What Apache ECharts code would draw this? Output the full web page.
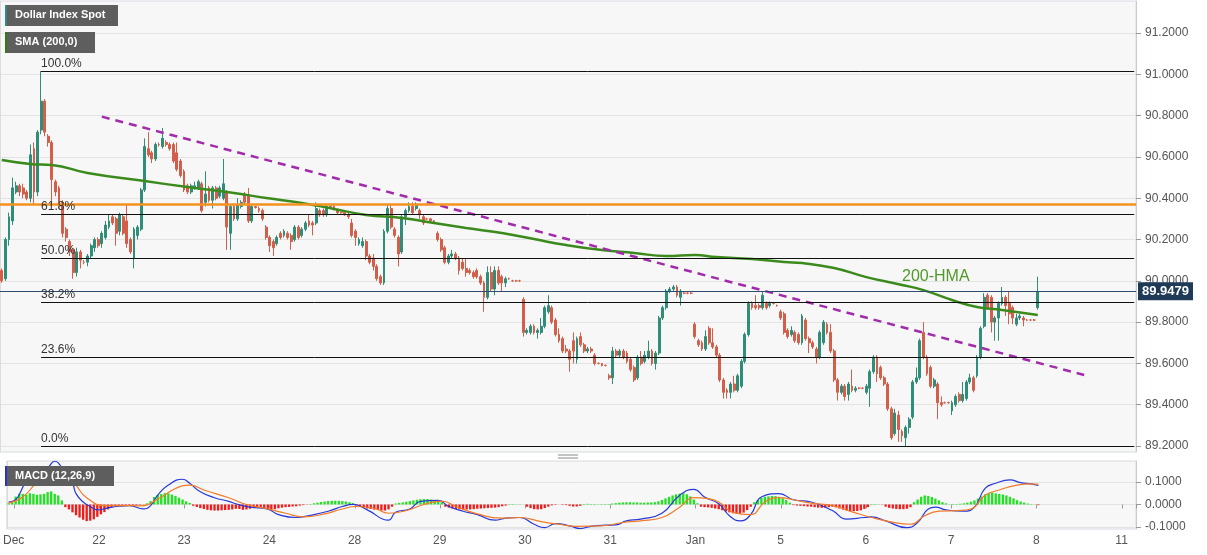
<!DOCTYPE html>
<html>
<head>
<meta charset="utf-8">
<title>Dollar Index Spot</title>
<script src="https://cdn.jsdelivr.net/npm/echarts@6/dist/echarts.min.js"></script>
<style>
  html, body { margin: 0; padding: 0; background: #fff; }
  #chart { width: 1207px; height: 555px; }
</style>
</head>
<body>
<div id="chart"></div>
<script>
// hourly candles, [open, close, low, high]
const dec21 = [
  [90.05, 90.00, 89.99, 90.06], [90.01, 90.20, 90.00, 90.21],
  [90.20, 90.31, 90.17, 90.33], [90.29, 90.45, 90.27, 90.50], [90.43, 90.46, 90.42, 90.48], [90.46, 90.43, 90.41, 90.47],
  [90.45, 90.42, 90.40, 90.47], [90.43, 90.40, 90.39, 90.44], [90.40, 90.61, 90.38, 90.66], [90.64, 90.43, 90.37, 90.67],
  [90.43, 90.72, 90.41, 90.73], [90.73, 90.87, 90.71, 91.016], [90.87, 90.72, 90.70, 90.88], [90.70, 90.67, 90.65, 90.71],
  [90.67, 90.49, 90.37, 90.68], [90.48, 90.43, 90.41, 90.49], [90.45, 90.38, 90.35, 90.46], [90.38, 90.23, 90.21, 90.39],
  [90.25, 90.21, 90.19, 90.26], [90.19, 90.14, 90.12, 90.20], [90.15, 90.04, 90.01, 90.16], [90.04, 90.14, 90.02, 90.16],
  [90.14, 90.10, 90.06, 90.15], [90.09, 90.09, 90.08, 90.10], [90.09, 90.12, 90.07, 90.13], [90.12, 90.17, 90.11, 90.18]
];
const dec22 = [
  [90.16, 90.20, 90.14, 90.21], [90.20, 90.17, 90.16, 90.21], [90.18, 90.23, 90.16, 90.24], [90.21, 90.27, 90.20, 90.29],
  [90.26, 90.29, 90.25, 90.32], [90.31, 90.28, 90.27, 90.32], [90.30, 90.23, 90.17, 90.31], [90.24, 90.32, 90.22, 90.33],
  [90.31, 90.23, 90.22, 90.32], [90.29, 90.18, 90.16, 90.37], [90.20, 90.14, 90.13, 90.21], [90.11, 90.25, 90.06, 90.26],
  [90.22, 90.26, 90.20, 90.27], [90.25, 90.44, 90.24, 90.45], [90.44, 90.65, 90.43, 90.69], [90.64, 90.61, 90.60, 90.72],
  [90.62, 90.59, 90.57, 90.63], [90.59, 90.66, 90.58, 90.67], [90.66, 90.66, 90.65, 90.67], [90.65, 90.69, 90.64, 90.74],
  [90.67, 90.66, 90.65, 90.68], [90.66, 90.64, 90.63, 90.67], [90.66, 90.58, 90.57, 90.67], [90.62, 90.54, 90.53, 90.67]
];
const dec23 = [
  [90.58, 90.51, 90.50, 90.59], [90.53, 90.44, 90.43, 90.54], [90.46, 90.43, 90.42, 90.47], [90.43, 90.46, 90.42, 90.47],
  [90.45, 90.46, 90.44, 90.48], [90.45, 90.48, 90.44, 90.49], [90.47, 90.34, 90.33, 90.48], [90.38, 90.42, 90.36, 90.53],
  [90.45, 90.39, 90.38, 90.46], [90.39, 90.45, 90.35, 90.46], [90.45, 90.40, 90.39, 90.46], [90.41, 90.45, 90.40, 90.46],
  [90.40, 90.47, 90.39, 90.59], [90.43, 90.26, 90.15, 90.44], [90.23, 90.36, 90.15, 90.37], [90.36, 90.30, 90.29, 90.37],
  [90.30, 90.37, 90.29, 90.40], [90.36, 90.38, 90.35, 90.39], [90.42, 90.38, 90.37, 90.43], [90.41, 90.29, 90.28, 90.45],
  [90.29, 90.36, 90.28, 90.37], [90.36, 90.355, 90.35, 90.36], [90.35, 90.34, 90.33, 90.36], [90.34, 90.30, 90.29, 90.35]
];
const dec24 = [
  [90.26, 90.21, 90.20, 90.27], [90.21, 90.17, 90.14, 90.22], [90.19, 90.16, 90.12, 90.20], [90.18, 90.21, 90.17, 90.22],
  [90.23, 90.21, 90.20, 90.24], [90.22, 90.24, 90.21, 90.25], [90.23, 90.21, 90.20, 90.24], [90.22, 90.19, 90.15, 90.23],
  [90.20, 90.26, 90.19, 90.27], [90.26, 90.21, 90.20, 90.27], [90.22, 90.25, 90.21, 90.26], [90.25, 90.28, 90.24, 90.29],
  [90.29, 90.27, 90.26, 90.32], [90.28, 90.27, 90.22, 90.29], [90.28, 90.35, 90.27, 90.38], [90.34, 90.32, 90.31, 90.35],
  [90.34, 90.32, 90.31, 90.35], [90.32, 90.36, 90.31, 90.37], [90.36, 90.355, 90.35, 90.37], [90.36, 90.35, 90.34, 90.37],
  [90.34, 90.33, 90.32, 90.35], [90.33, 90.33, 90.325, 90.335], [90.33, 90.32, 90.315, 90.335], [90.32, 90.31, 90.30, 90.33]
];
const dec28 = [
  [90.28, 90.22, 90.21, 90.30], [90.24, 90.21, 90.17, 90.25], [90.18, 90.20, 90.17, 90.21], [90.17, 90.19, 90.16, 90.21],
  [90.19, 90.12, 90.10, 90.20], [90.12, 90.09, 90.08, 90.13], [90.11, 90.07, 90.05, 90.13], [90.07, 90.01, 90.00, 90.08],
  [90.02, 89.99, 89.98, 90.03], [89.99, 90.24, 89.98, 90.25], [90.24, 90.35, 90.23, 90.37], [90.35, 90.26, 90.25, 90.37],
  [90.25, 90.22, 90.21, 90.26], [90.21, 90.13, 90.07, 90.22], [90.14, 90.31, 90.13, 90.32], [90.31, 90.34, 90.27, 90.35],
  [90.34, 90.36, 90.33, 90.38], [90.36, 90.33, 90.32, 90.38], [90.35, 90.37, 90.34, 90.38], [90.34, 90.32, 90.30, 90.35],
  [90.31, 90.28, 90.27, 90.32], [90.30, 90.30, 90.295, 90.305], [90.30, 90.29, 90.285, 90.305], [90.29, 90.28, 90.275, 90.295]
];
const dec29 = [
  [90.23, 90.20, 90.19, 90.24], [90.20, 90.15, 90.14, 90.21], [90.16, 90.09, 90.08, 90.17], [90.09, 90.12, 90.08, 90.13],
  [90.12, 90.13, 90.11, 90.15], [90.13, 90.11, 90.10, 90.14], [90.11, 90.05, 90.03, 90.12], [90.09, 90.06, 90.05, 90.11],
  [90.06, 90.04, 90.02, 90.11], [90.05, 90.04, 90.03, 90.06], [90.04, 90.02, 90.01, 90.05], [90.05, 90.02, 90.01, 90.06],
  [90.02, 89.99, 89.98, 90.03], [89.99, 89.92, 89.85, 90.00], [89.92, 90.04, 89.91, 90.07], [90.04, 89.96, 89.95, 90.07],
  [89.96, 90.05, 89.93, 90.07], [90.05, 89.99, 89.98, 90.07], [90.02, 89.99, 89.95, 90.03], [89.99, 90.01, 89.97, 90.02],
  [90.01, 90.01, 90.005, 90.015], [90.00, 90.00, 89.995, 90.005], [90.00, 90.00, 89.995, 90.005], [90.00, 90.00, 89.995, 90.005]
];
const dec30 = [
  [89.91, 89.75, 89.73, 89.92], [89.75, 89.76, 89.74, 89.77], [89.75, 89.78, 89.74, 89.79], [89.78, 89.75, 89.74, 89.79],
  [89.75, 89.76, 89.72, 89.77], [89.75, 89.78, 89.74, 89.82], [89.78, 89.87, 89.77, 89.88], [89.85, 89.88, 89.84, 89.93],
  [89.87, 89.80, 89.79, 89.88], [89.81, 89.74, 89.73, 89.82], [89.74, 89.71, 89.70, 89.77], [89.72, 89.66, 89.65, 89.73],
  [89.67, 89.66, 89.65, 89.69], [89.66, 89.62, 89.56, 89.67], [89.71, 89.66, 89.60, 89.75], [89.62, 89.72, 89.60, 89.73],
  [89.73, 89.69, 89.68, 89.75], [89.69, 89.66, 89.65, 89.70], [89.66, 89.67, 89.65, 89.68], [89.67, 89.66, 89.65, 89.68],
  [89.64, 89.60, 89.59, 89.65], [89.60, 89.60, 89.595, 89.605], [89.60, 89.59, 89.585, 89.60], [89.59, 89.59, 89.585, 89.595]
];
const dec31 = [
  [89.54, 89.53, 89.52, 89.55], [89.53, 89.66, 89.50, 89.68], [89.66, 89.64, 89.63, 89.67], [89.64, 89.66, 89.63, 89.67],
  [89.66, 89.63, 89.62, 89.67], [89.65, 89.61, 89.60, 89.66], [89.62, 89.57, 89.56, 89.63], [89.58, 89.52, 89.51, 89.59],
  [89.53, 89.63, 89.52, 89.64], [89.63, 89.60, 89.59, 89.66], [89.61, 89.64, 89.60, 89.66], [89.63, 89.66, 89.62, 89.71],
  [89.66, 89.60, 89.59, 89.67], [89.60, 89.65, 89.57, 89.66], [89.65, 89.82, 89.64, 89.83], [89.82, 89.87, 89.81, 89.88],
  [89.87, 89.95, 89.86, 89.96], [89.95, 89.96, 89.94, 89.97], [89.96, 89.97, 89.95, 89.98], [89.97, 89.93, 89.92, 89.98],
  [89.92, 89.95, 89.88, 89.96], [89.94, 89.94, 89.935, 89.945], [89.94, 89.94, 89.935, 89.945], [89.94, 89.94, 89.935, 89.945]
];
const jan4 = [
  [89.79, 89.73, 89.72, 89.80], [89.71, 89.69, 89.68, 89.72], [89.70, 89.67, 89.66, 89.71], [89.67, 89.73, 89.66, 89.76],
  [89.77, 89.70, 89.69, 89.78], [89.70, 89.68, 89.67, 89.77], [89.68, 89.64, 89.63, 89.69], [89.64, 89.52, 89.51, 89.65],
  [89.52, 89.46, 89.43, 89.53], [89.47, 89.46, 89.43, 89.48], [89.46, 89.50, 89.43, 89.51], [89.50, 89.47, 89.46, 89.54],
  [89.47, 89.54, 89.46, 89.55], [89.49, 89.61, 89.48, 89.62], [89.61, 89.74, 89.60, 89.75], [89.74, 89.89, 89.73, 89.90],
  [89.89, 89.87, 89.86, 89.90], [89.88, 89.87, 89.86, 89.93], [89.88, 89.87, 89.86, 89.89], [89.87, 89.93, 89.86, 89.95],
  [89.89, 89.87, 89.86, 89.90], [89.88, 89.89, 89.87, 89.90], [89.89, 89.89, 89.885, 89.895], [89.88, 89.88, 89.875, 89.885]
];
const jan5 = [
  [89.85, 89.82, 89.81, 89.86], [89.84, 89.75, 89.74, 89.85], [89.76, 89.73, 89.72, 89.77], [89.74, 89.76, 89.73, 89.78],
  [89.75, 89.71, 89.70, 89.76], [89.74, 89.70, 89.69, 89.75], [89.70, 89.83, 89.69, 89.84], [89.81, 89.72, 89.71, 89.82],
  [89.72, 89.70, 89.65, 89.73], [89.70, 89.68, 89.67, 89.71], [89.67, 89.63, 89.60, 89.68], [89.63, 89.75, 89.62, 89.76],
  [89.70, 89.80, 89.69, 89.81], [89.79, 89.75, 89.74, 89.80], [89.75, 89.66, 89.65, 89.79], [89.66, 89.52, 89.51, 89.67],
  [89.52, 89.46, 89.42, 89.53], [89.46, 89.49, 89.45, 89.50], [89.49, 89.44, 89.42, 89.50], [89.45, 89.50, 89.42, 89.51],
  [89.49, 89.47, 89.46, 89.57], [89.47, 89.48, 89.46, 89.49], [89.48, 89.48, 89.475, 89.485], [89.48, 89.48, 89.475, 89.485]
];
const jan6 = [
  [89.46, 89.49, 89.45, 89.50], [89.48, 89.56, 89.39, 89.57], [89.56, 89.63, 89.55, 89.64], [89.63, 89.55, 89.51, 89.64],
  [89.58, 89.53, 89.52, 89.59], [89.53, 89.50, 89.49, 89.54], [89.50, 89.38, 89.37, 89.51], [89.38, 89.24, 89.23, 89.39],
  [89.26, 89.36, 89.25, 89.38], [89.35, 89.28, 89.22, 89.37], [89.27, 89.25, 89.22, 89.28], [89.24, 89.29, 89.20, 89.30],
  [89.29, 89.33, 89.26, 89.34], [89.34, 89.51, 89.33, 89.52], [89.51, 89.53, 89.50, 89.58], [89.53, 89.71, 89.52, 89.72],
  [89.75, 89.63, 89.62, 89.80], [89.63, 89.55, 89.54, 89.64], [89.58, 89.49, 89.48, 89.59], [89.49, 89.52, 89.48, 89.53],
  [89.50, 89.41, 89.33, 89.51], [89.41, 89.40, 89.39, 89.44], [89.41, 89.41, 89.405, 89.415], [89.41, 89.41, 89.405, 89.415]
];
const jan7 = [
  [89.37, 89.41, 89.35, 89.42], [89.40, 89.44, 89.39, 89.45], [89.45, 89.42, 89.41, 89.46], [89.42, 89.45, 89.41, 89.51],
  [89.43, 89.51, 89.42, 89.52], [89.51, 89.53, 89.50, 89.55], [89.53, 89.47, 89.46, 89.54], [89.54, 89.63, 89.53, 89.64],
  [89.63, 89.77, 89.62, 89.78], [89.78, 89.92, 89.77, 89.94], [89.93, 89.87, 89.86, 89.94], [89.92, 89.80, 89.75, 89.93],
  [89.80, 89.82, 89.71, 89.83], [89.82, 89.89, 89.71, 89.90], [89.89, 89.92, 89.88, 89.97], [89.92, 89.88, 89.83, 89.93],
  [89.89, 89.84, 89.79, 89.95], [89.87, 89.82, 89.79, 89.88], [89.79, 89.82, 89.78, 89.84], [89.82, 89.83, 89.81, 89.84],
  [89.82, 89.81, 89.78, 89.83], [89.81, 89.81, 89.805, 89.815], [89.81, 89.81, 89.805, 89.815], [89.81, 89.81, 89.805, 89.815]
];
const jan8 = [[89.87, 89.9479, 89.86, 90.02]];

// MACD histogram, one bar per candle
const macdHist = [
  0.005, 0.010, 0.035, 0.047, 0.047, 0.043, 0.050, 0.047, 0.043, 0.045, 0.047, 0.055, 0.058, 0.047, 0.040, 0.018,
  -0.012, -0.022, -0.035, -0.048, -0.058, -0.068, -0.074, -0.072, -0.066, -0.055,
  -0.044, -0.034, -0.022, -0.012, -0.006, -0.005, -0.004, -0.006, -0.005, -0.004, -0.003, -0.002, 0.001,
  0.005, 0.015, 0.033, 0.042, 0.046, 0.050, 0.049, 0.044, 0.038, 0.030, 0.022,
  0.014, 0.007, -0.006, -0.011, -0.016, -0.020, -0.024, -0.026, -0.027, -0.027, -0.026, -0.025, -0.024, -0.022,
  -0.019, -0.020, -0.024, -0.022, -0.019, -0.014, -0.012, -0.015, -0.018, -0.020,
  -0.022, -0.021, -0.017, -0.014, -0.012, -0.011, -0.009, -0.008, -0.005, -0.003, -0.001,
  0.002, 0.005, 0.008, 0.011, 0.013, 0.015, 0.016, 0.016, 0.016, 0.015, 0.013, 0.010, 0.006,
  -0.004, -0.010, -0.014, -0.018, -0.020, -0.023, -0.025, -0.027, -0.027, -0.022, -0.010,
  0.004, 0.007, 0.009, 0.012, 0.015, 0.018, 0.021, 0.023, 0.024, 0.024, 0.022, 0.020, 0.016,
  0.010, -0.010, -0.014, -0.018, -0.020, -0.021, -0.022, -0.022, -0.022, -0.021, -0.019, -0.018,
  -0.017, -0.016, -0.015, -0.014, -0.012, -0.008, -0.005, 0.002, 0.002, 0.001, 0.001, 0.000,
  -0.010, -0.016, -0.021, -0.022, -0.021, -0.016, -0.010, -0.004, -0.002, 0.000, -0.002, -0.003,
  -0.006, -0.009, -0.009, -0.006, 0.002, 0.003, 0.002, 0.002, 0.001, 0.002, 0.002, 0.002,
  0.004, 0.006, 0.008, 0.009, 0.010, 0.010, 0.009, 0.009, 0.008, 0.008, 0.009, 0.009,
  0.010, 0.014, 0.020, 0.027, 0.034, 0.040, 0.045, 0.048, 0.052, 0.045, 0.036, 0.022,
  0.005, -0.010, -0.012, -0.013, -0.015, -0.018, -0.021, -0.026, -0.031, -0.035, -0.039, -0.041,
  -0.040, -0.036, -0.025, -0.010, 0.010, 0.020, 0.029, 0.034, 0.036, 0.038, 0.037, 0.034,
  0.028, 0.020, 0.008, -0.003, -0.005, -0.006, -0.007, -0.009, -0.010, -0.012, -0.014, -0.015,
  -0.014, -0.012, -0.010, -0.013, -0.018, -0.023, -0.027, -0.030, -0.030, -0.029, -0.026, -0.020,
  -0.012, 0.002, 0.002, 0.001, -0.001, -0.010, -0.015, -0.018, -0.020, -0.021, -0.021, -0.019,
  -0.012, 0.010, 0.022, 0.034, 0.040, 0.038, 0.033, 0.026, 0.018, 0.010, 0.005, 0.001,
  0.002, 0.002, 0.003, 0.005, 0.008, 0.012, 0.018, 0.026, 0.035, 0.045, 0.050, 0.053,
  0.049, 0.047, 0.044, 0.040, 0.034, 0.027, 0.019, 0.013, 0.008, 0.004, 0.002, 0.001,
  -0.003
];

// MACD and signal lines, read as [candle index, value]
const macdLine = [
  [0, 0.011], [2, 0.021], [5.2, 0.102], [8.4, 0.132], [10.5, 0.162], [12.6, 0.192], [14.2, 0.185], [15.8, 0.139],
  [17.5, 0.094], [19.1, 0.048], [21.3, 0.011], [22.8, -0.009], [25, -0.024], [27.6, -0.015], [30.8, -0.008],
  [34, -0.005], [37.8, -0.020], [39.9, -0.005], [42, 0.041], [44.7, 0.086], [48.5, 0.112], [51.1, 0.094],
  [54.3, 0.056], [57.5, 0.030], [61.8, 0.014], [63.9, 0.003], [68.2, -0.012], [72.5, -0.021], [75.7, -0.045],
  [81, -0.058], [85.3, -0.048], [89.6, -0.030], [93.9, -0.009], [97.1, 0.000], [101.4, -0.024], [106.7, -0.070],
  [109.4, -0.035], [113.1, -0.020], [116.3, 0.014], [120.6, 0.018], [123.8, -0.009], [128.1, -0.030],
  [132.4, -0.045], [136.6, -0.070], [139.8, -0.061], [144.1, -0.058], [147.9, -0.088], [150.5, -0.103],
  [153.7, -0.085], [158, -0.095], [161.2, -0.107], [164.4, -0.097], [167.5, -0.092], [170.9, -0.091],
  [174.1, -0.073], [178.4, -0.065], [183.8, -0.039], [189.1, 0.041], [192.9, 0.067], [195.6, 0.033],
  [199.9, 0.003], [203.1, -0.050], [205.8, -0.073], [208.5, -0.045], [211.7, 0.033], [217.1, 0.048],
  [221.4, 0.021], [225.7, 0.011], [232.1, -0.027], [236.4, -0.065], [240.7, -0.058], [242.9, -0.055],
  [247.2, -0.073], [252.6, -0.103], [255.8, -0.080], [258.5, -0.020], [261.2, -0.012], [264.4, -0.024],
  [268.7, -0.030], [271.9, -0.012], [275.1, 0.071], [278.4, 0.094], [281.6, 0.109], [284.8, 0.097],
  [288, 0.091], [290, 0.084]
];
const signalLine = [
  [0, 0.006], [4.1, 0.033], [8.4, 0.097], [12.6, 0.147], [15.8, 0.152], [19.1, 0.086], [22.3, 0.030],
  [26.5, -0.005], [31.9, -0.005], [37.2, -0.006], [42.5, 0.033], [46.8, 0.071], [50.6, 0.086], [55.4, 0.064],
  [61.8, 0.030], [67.2, 0.000], [72.5, -0.020], [77.9, -0.039], [83.2, -0.055], [88.5, -0.042], [93.9, -0.020],
  [98.2, -0.009], [102.5, -0.017], [106.7, -0.039], [112, -0.027], [117.4, 0.000], [121.7, 0.015],
  [126, -0.009], [132.4, -0.042], [138.8, -0.061], [144.1, -0.058], [149.5, -0.076], [154.8, -0.088],
  [160.1, -0.097], [167.4, -0.095], [173, -0.080], [178.4, -0.073], [183.8, -0.058], [189.1, -0.012],
  [193.4, 0.030], [196.7, 0.026], [199.9, 0.011], [204.2, -0.035], [208.5, -0.045], [212.8, 0.011],
  [217.1, 0.030], [221.4, 0.021], [225.7, 0.006], [232.1, -0.005], [237.5, -0.035], [242.9, -0.058],
  [248.3, -0.076], [253.6, -0.088], [257.9, -0.050], [262.2, -0.030], [266.5, -0.027], [270.8, -0.020],
  [275.1, 0.041], [279.4, 0.064], [283.7, 0.086], [288, 0.091], [290, 0.089]
];

// 200-period moving average, read as [candle index, value]
const smaPoints = [
  [0, 90.585], [7.9, 90.566], [14.3, 90.561], [23.9, 90.522], [39.5, 90.483], [51.8, 90.454], [64.7, 90.425],
  [74.2, 90.401], [83.5, 90.377], [92.7, 90.348], [102.2, 90.319], [111.5, 90.304], [120.7, 90.280],
  [130.2, 90.256], [139.5, 90.231], [148.7, 90.202], [158.2, 90.173], [167.5, 90.149], [176.7, 90.135],
  [186.2, 90.120], [193.5, 90.125], [200.2, 90.115], [209.5, 90.106], [218.7, 90.091], [223.5, 90.086],
  [232.7, 90.062], [242.2, 90.018], [251.5, 89.980], [257.9, 89.955], [265.5, 89.907], [273, 89.873],
  [279.5, 89.859], [290, 89.834]
];
const trendPoints = [[28, 90.795], [303, 89.544]];

const dayLabels = ['Dec', '22', '23', '24', '28', '29', '30', '31', 'Jan', '5', '6', '7', '8', '11'];
const priceTicks = [89.2, 89.4, 89.6, 89.8, 90.0, 90.2, 90.4, 90.6, 90.8, 91.0, 91.2];
const macdTicks = [-0.1, 0, 0.1];
const fibNames = ['100.0%', '61.8%', '50.0%', '38.2%', '23.6%', '0.0%'];
const fibLevels = [91.016, 90.323, 90.110, 89.897, 89.631, 89.200];
const fibStart = 11;
const resistance = 90.367;
const lastPrice = 89.9479;

const candles = [].concat(dec21, dec22, dec23, dec24, dec28, dec29, dec30, dec31, jan4, jan5, jan6, jan7, jan8);

// hourly slots: two before the Dec 21 open, then 24 per trading day
const categories = ['pre|22', 'pre|23'];
dayLabels.forEach((d, k) => {
  const hours = k === dayLabels.length - 1 ? 4 : 24;
  for (let h = 0; h < hours; h++) categories.push(d + '|' + h);
});
const lastSlot = categories.length - 1;
const isDayStart = (i, v) => v.endsWith('|0');
const isJan = (i, v) => v === 'Jan|0';

const chart = echarts.init(document.getElementById('chart'));
const FONT = '"Liberation Sans", Arial, sans-serif';

const fibMarks = fibLevels.map((v, k) => [
  {
    coord: [fibStart, v], name: fibNames[k],
    lineStyle: { color: '#111', width: 1, type: 'solid' },
    label: { show: true, position: 'insideStartTop', formatter: '{b}', color: '#333', fontSize: 12, fontFamily: FONT, distance: [0, 1] }
  },
  { coord: [lastSlot, v] }
]);

const option = {
  animation: false,
  backgroundColor: '#ffffff',
  textStyle: { fontFamily: FONT },
  grid: [
    { left: 0, right: 71, top: 1, height: 451, show: true, backgroundColor: '#f7f7f7', borderColor: '#d9dbe3', borderWidth: 1 },
    { left: 0, right: 71, top: 461, height: 68, show: true, backgroundColor: '#f7f7f7', borderColor: '#d9dbe3', borderWidth: 1 }
  ],
  xAxis: [
    {
      type: 'category', gridIndex: 0, data: categories, boundaryGap: true,
      axisLine: { show: false }, axisTick: { show: false }, axisLabel: { show: false },
      splitLine: { show: true, interval: isJan, lineStyle: { color: '#dcdcdc' } }
    },
    {
      type: 'category', gridIndex: 1, data: categories, boundaryGap: true,
      axisLine: { show: false },
      axisTick: { show: true, interval: isDayStart, length: 4, lineStyle: { color: '#999' } },
      axisLabel: { interval: isDayStart, formatter: v => v.split('|')[0], color: '#555', fontSize: 12, margin: 6, padding: [0, 4, 0, 0] },
      splitLine: { show: true, interval: isJan, lineStyle: { color: '#dcdcdc' } }
    }
  ],
  yAxis: [
    {
      type: 'value', gridIndex: 0, position: 'right', min: 89.171, max: 91.355, scale: true,
      axisLine: { show: true, lineStyle: { color: '#c9cbd3' } },
      axisTick: { show: true, customValues: priceTicks, length: 5, lineStyle: { color: '#999' } },
      axisLabel: { customValues: priceTicks, formatter: v => v.toFixed(4), color: '#555', fontSize: 12, margin: 9 },
      splitLine: { show: true, lineStyle: { color: '#e3e3e3' } }
    },
    {
      type: 'value', gridIndex: 1, position: 'right', min: -0.109, max: 0.193,
      axisLine: { show: true, lineStyle: { color: '#c9cbd3' } },
      axisTick: { show: true, customValues: macdTicks, length: 5, lineStyle: { color: '#999' } },
      axisLabel: { customValues: macdTicks, formatter: v => v.toFixed(4), color: '#555', fontSize: 12, margin: 9 },
      splitLine: { show: true, lineStyle: { color: '#e3e3e3' } }
    }
  ],
  series: [
    {
      name: 'Dollar Index Spot', type: 'candlestick', xAxisIndex: 0, yAxisIndex: 0,
      data: candles, barWidth: '66%',
      itemStyle: {
        color: '#2f8d78', color0: '#d35e49', borderColor: '#2f8d78', borderColor0: '#d35e49',
        borderColorDoji: '#d35e49', borderWidth: 1
      },
      markLine: {
        silent: true, symbol: ['none', 'none'], animation: false,
        data: [
          ...fibMarks,
          { yAxis: resistance, lineStyle: { color: '#f5921f', width: 2.5, type: 'solid' }, label: { show: false } },
          {
            yAxis: lastPrice, lineStyle: { color: '#2f4d6e', width: 1, type: 'solid' },
            label: {
              show: true, position: 'end', distance: 2, formatter: lastPrice.toFixed(4),
              backgroundColor: '#1e3a57', color: '#fff', fontWeight: 'bold', fontSize: 13,
              padding: [3, 4, 2, 4], fontFamily: FONT
            }
          }
        ]
      }
    },
    {
      name: 'SMA (200,0)', type: 'line', xAxisIndex: 0, yAxisIndex: 0, data: smaPoints,
      smooth: true, showSymbol: false, lineStyle: { color: '#3b8a1c', width: 2.5 }
    },
    {
      name: 'trend', type: 'line', xAxisIndex: 0, yAxisIndex: 0, data: trendPoints,
      showSymbol: false, lineStyle: { color: '#a22bab', width: 2.5, type: [8, 6] }
    },
    {
      name: 'hist', type: 'bar', xAxisIndex: 1, yAxisIndex: 1, data: macdHist, barWidth: '66%',
      itemStyle: { color: p => (p.value >= 0 ? '#22e022' : '#f01c1c') }
    },
    {
      name: 'MACD', type: 'line', xAxisIndex: 1, yAxisIndex: 1, data: macdLine,
      smooth: true, showSymbol: false, lineStyle: { color: '#2639d8', width: 1.2 }
    },
    {
      name: 'Signal', type: 'line', xAxisIndex: 1, yAxisIndex: 1, data: signalLine,
      smooth: true, showSymbol: false, lineStyle: { color: '#f27b2a', width: 1.2 }
    }
  ],
  graphic: [
    { type: 'rect', z: 100, left: 5, top: 5, shape: { width: 113, height: 21 }, style: { fill: '#5e5e5e' } },
    { type: 'rect', z: 101, left: 5, top: 5, shape: { width: 2, height: 21 }, style: { fill: '#2c8c86' } },
    { type: 'text', z: 101, left: 15, top: 9, style: { text: 'Dollar Index Spot', fill: '#fff', font: 'bold 11px ' + FONT } },
    { type: 'rect', z: 100, left: 5, top: 32, shape: { width: 90, height: 21 }, style: { fill: '#5e5e5e' } },
    { type: 'rect', z: 101, left: 5, top: 32, shape: { width: 2, height: 21 }, style: { fill: '#2f7d12' } },
    { type: 'text', z: 101, left: 15, top: 36, style: { text: 'SMA (200,0)', fill: '#fff', font: 'bold 11px ' + FONT } },
    { type: 'rect', z: 100, left: 5, top: 466, shape: { width: 109, height: 20 }, style: { fill: '#5e5e5e' } },
    { type: 'rect', z: 101, left: 5, top: 466, shape: { width: 2, height: 20 }, style: { fill: '#2235c8' } },
    { type: 'text', z: 101, left: 15, top: 470, style: { text: 'MACD (12,26,9)', fill: '#fff', font: 'bold 11px ' + FONT } },
    { type: 'text', z: 100, left: 902, top: 269, style: { text: '200-HMA', fill: '#4f9a2a', font: '16px ' + FONT } },
    { type: 'line', z: 100, shape: { x1: 558, y1: 455, x2: 578, y2: 455 }, style: { stroke: '#888', lineWidth: 1 } },
    { type: 'line', z: 100, shape: { x1: 558, y1: 458, x2: 578, y2: 458 }, style: { stroke: '#888', lineWidth: 1 } }
  ]
};

chart.setOption(option);
window.addEventListener('resize', () => chart && chart.resize());
</script>
</body>
</html>
